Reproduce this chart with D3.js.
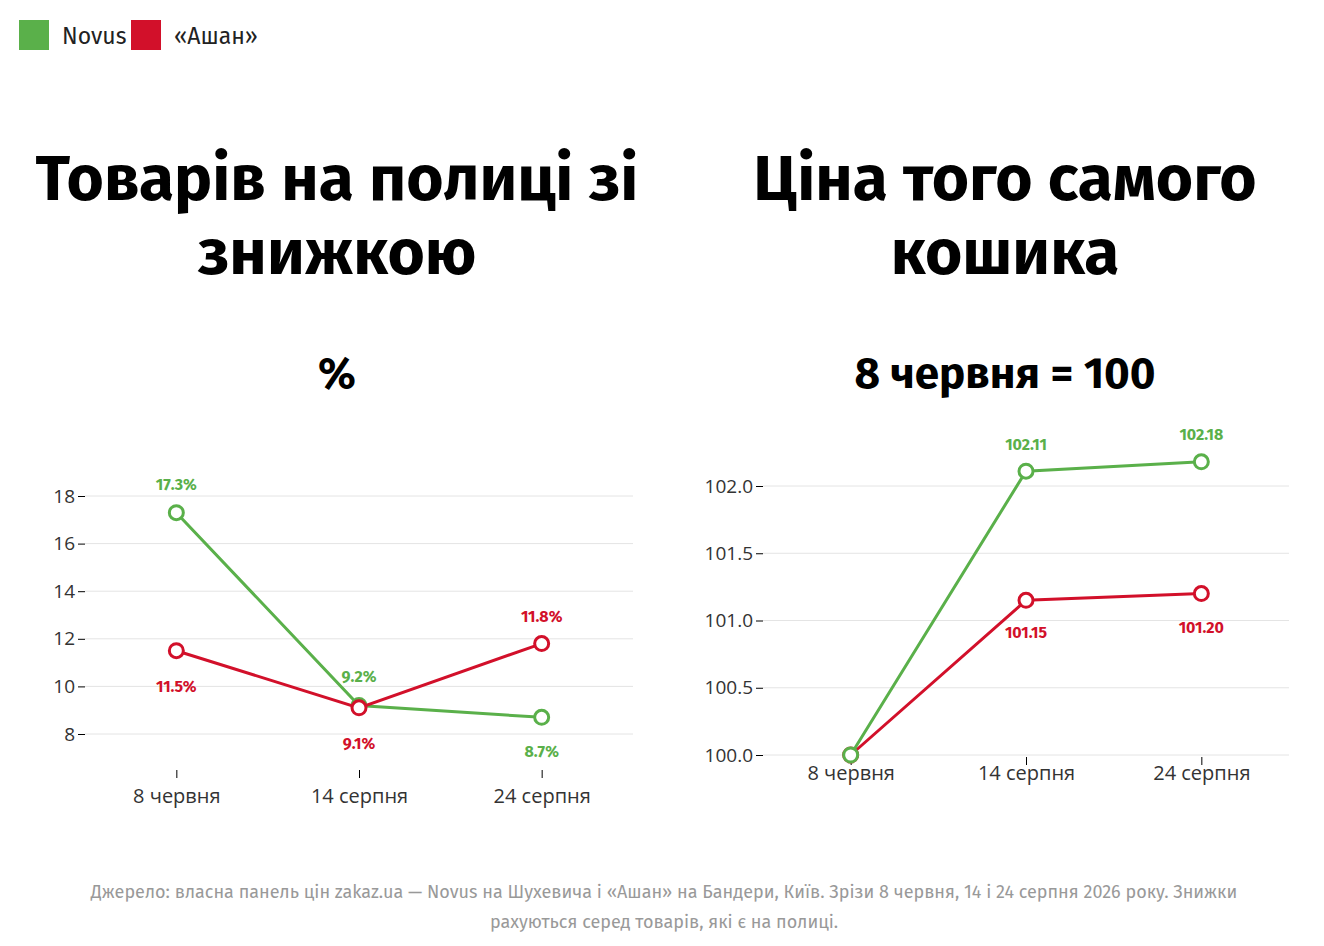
<!DOCTYPE html>
<html><head><meta charset="utf-8">
<script src="https://cdn.jsdelivr.net/npm/d3@7"></script>
<style>
body{margin:0;background:#fff;font-family:"Fira Sans","Open Sans",sans-serif;}
</style></head>
<body><svg id="c" width="1324" height="946"></svg>
<script>
var dates = ["8 червня", "14 серпня", "24 серпня"];
var novusDisc = [17.3, 9.2, 8.7];
var auchanDisc = [11.5, 9.1, 11.8];
var novusIdx = [100, 102.11, 102.18];
var auchanIdx = [100, 101.15, 101.20];
var discTicks = [8, 10, 12, 14, 16, 18];
var idxTicks = [100, 100.5, 101, 101.5, 102];
var green = "#5ab04a", red = "#d2102a";

var svg = d3.select("#c");

// legend
var leg = [["Novus", green, 19], ["«Ашан»", red, 131]];
leg.forEach(function(l) {
    svg.append("rect").attr("x", l[2]).attr("y", 20).attr("width", 30).attr("height", 30).attr("fill", l[1]);
    svg.append("text").attr("x", l[2] + 43).attr("y", 44).attr("font-size", 23).attr("fill", "#222").text(l[0]);
});

function chart(cx, titleLines, sub, xr, yDom, yRange, axisY, ticks, fmt, series, lblFmt, pos, xLblY) {
    titleLines.forEach(function(t, i) {
        svg.append("text").attr("x", cx).attr("y", 200 + i * 74).attr("text-anchor", "middle")
            .attr("font-size", 64).attr("font-weight", 700).text(t);
    });
    svg.append("text").attr("x", cx).attr("y", 388).attr("text-anchor", "middle")
        .attr("font-size", 44).attr("font-weight", 700).text(sub);

    var x = d3.scalePoint().domain(dates).range(xr).padding(0.5);
    var y = d3.scaleLinear().domain(yDom).range(yRange);

    var g = svg.append("g");
    g.selectAll(".grid").data(ticks).enter().append("line")
        .attr("x1", xr[0]).attr("x2", xr[1]).attr("y1", y).attr("y2", y)
        .attr("stroke", "#e4e4e4");
    var ya = g.append("g").attr("transform", "translate(" + xr[0] + ",0)")
        .call(d3.axisLeft(y).tickValues(ticks).tickFormat(fmt).tickSize(7));
    ya.select(".domain").remove();
    ya.selectAll("text").attr("font-size", 19).attr("fill", "#333").attr("font-family", "Open Sans");
    var xa = g.append("g").attr("transform", "translate(0," + axisY + ")")
        .call(d3.axisBottom(x).tickSize(8));
    xa.select(".domain").remove();
    xa.selectAll("text").attr("font-size", 20).attr("fill", "#333").attr("font-family", "Open Sans").attr("dy", xLblY);

    var line = d3.line().x(function(d, i) { return x(dates[i]); }).y(function(d) { return y(d); });
    series.forEach(function(s, si) {
        g.append("path").datum(s.vals).attr("d", line).attr("fill", "none")
            .attr("stroke", s.color).attr("stroke-width", 3);
        s.vals.forEach(function(v, i) {
            g.append("circle").attr("cx", x(dates[i])).attr("cy", y(v)).attr("r", 7)
                .attr("fill", "#fff").attr("stroke", s.color).attr("stroke-width", 3);
            g.append("text").attr("x", x(dates[i])).attr("y", y(v) + pos[si][i])
                .attr("text-anchor", "middle").attr("font-size", 16).attr("font-weight", 700)
                .attr("fill", s.color).text(lblFmt(v));
        });
    });
}

chart(337, ["Товарів на полиці зі", "знижкою"], "%", [85, 633], [8, 18], [734, 496], 770,
    discTicks, d3.format("d"),
    [{vals: novusDisc, color: green}, {vals: auchanDisc, color: red}],
    function(v) { return v.toFixed(1) + "%"; },
    [[-23, -23, 40], [41, 41, -22]], "1.1em");

chart(1005, ["Ціна того самого", "кошика"], "8 червня = 100", [763, 1289], [100, 102], [755, 486], 757,
    idxTicks, d3.format(".1f"),
    [{vals: auchanIdx, color: red}, {vals: novusIdx, color: green}],
    function(v) { return v.toFixed(2); },
    [[0, 38, 39], [0, -21, -22]], "0.6em");

// hide duplicate start labels at 100
svg.selectAll("text").filter(function() { return this.textContent === "100.00"; }).remove();

var foot = ["Джерело: власна панель цін zakaz.ua — Novus на Шухевича і «Ашан» на Бандери, Київ. Зрізи 8 червня, 14 і 24 серпня 2026 року. Знижки",
    "рахуються серед товарів, які є на полиці."];
foot.forEach(function(t, i) {
    svg.append("text").attr("x", 664).attr("y", 898 + i * 30).attr("text-anchor", "middle")
        .attr("font-size", 18).attr("fill", "#999").text(t);
});
</script></body></html>
